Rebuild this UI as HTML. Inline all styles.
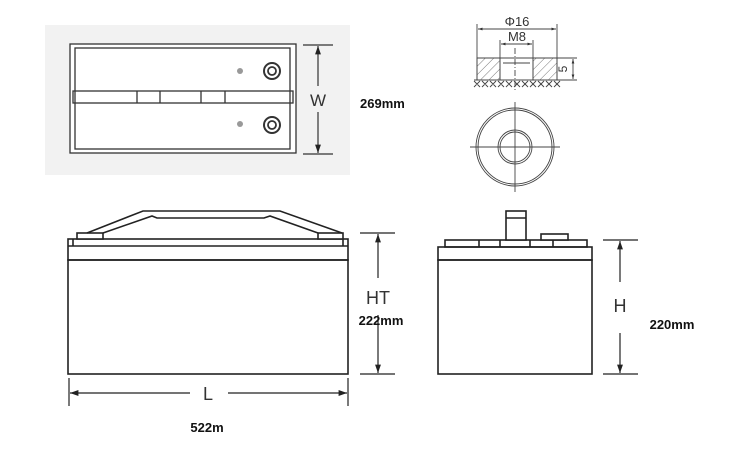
<!DOCTYPE html>
<html><head><meta charset="utf-8"><style>
html,body{margin:0;padding:0;background:#fff;}
svg{display:block;}
text{font-family:"Liberation Sans",sans-serif;}
</style></head><body>
<svg width="745" height="469" viewBox="0 0 745 469" xmlns="http://www.w3.org/2000/svg">
<defs>
<marker id="a" viewBox="0 0 10 10" refX="10" refY="5" markerWidth="7" markerHeight="7" orient="auto-start-reverse"><path d="M0,1.5 L10,5 L0,8.5 z" fill="#222"/></marker>
<marker id="s" viewBox="0 0 10 10" refX="10" refY="5" markerWidth="5" markerHeight="5" orient="auto-start-reverse"><path d="M0,2 L10,5 L0,8 z" fill="#333"/></marker>
<pattern id="h" width="6" height="6" patternUnits="userSpaceOnUse" patternTransform="rotate(45)"><line x1="0" y1="0" x2="0" y2="6" stroke="#555" stroke-width="0.8"/></pattern>
</defs>

<!-- top view panel -->
<rect x="45" y="25" width="305" height="150" fill="#f2f2f2"/>
<g fill="none" stroke="#333" stroke-width="1.3">
<rect x="70" y="44" width="226" height="109" fill="#fff"/>
<rect x="75" y="48" width="215" height="101"/>
<rect x="73" y="91" width="220" height="12"/>
<line x1="137" y1="91" x2="137" y2="103"/><line x1="160" y1="91" x2="160" y2="103"/>
<line x1="201" y1="91" x2="201" y2="103"/><line x1="225" y1="91" x2="225" y2="103"/>
<circle cx="272" cy="71" r="8" stroke-width="2"/><circle cx="272" cy="71" r="4" stroke-width="1.8"/>
<circle cx="272" cy="125" r="8" stroke-width="2"/><circle cx="272" cy="125" r="4" stroke-width="1.8"/>
</g>
<circle cx="240" cy="71" r="3" fill="#999"/><circle cx="240" cy="124" r="3" fill="#999"/>
<g stroke="#333" stroke-width="1.2">
<line x1="303" y1="45" x2="333" y2="45"/><line x1="303" y1="154" x2="333" y2="154"/>
<line x1="318" y1="86" x2="318" y2="46" marker-end="url(#a)"/>
<line x1="318" y1="112" x2="318" y2="153" marker-end="url(#a)"/>
</g>
<text x="318" y="106" font-size="17" text-anchor="middle" fill="#333">W</text>
<text x="360" y="108" font-size="13" font-weight="bold" fill="#111">269mm</text>

<!-- nut detail -->
<g stroke="#444" stroke-width="0.9" fill="none">
<line x1="477" y1="24" x2="477" y2="80"/><line x1="557" y1="24" x2="557" y2="80"/>
<line x1="478" y1="29" x2="556" y2="29" marker-start="url(#s)" marker-end="url(#s)"/>
<line x1="500" y1="40" x2="500" y2="80"/><line x1="533" y1="40" x2="533" y2="80"/>
<line x1="501" y1="44" x2="532" y2="44" marker-start="url(#s)" marker-end="url(#s)"/>
<rect x="477" y="58" width="23" height="22" fill="url(#h)"/>
<rect x="533" y="58" width="24" height="22" fill="url(#h)"/>
<line x1="477" y1="58" x2="557" y2="58"/>
<line x1="503" y1="63" x2="530" y2="63"/>
<line x1="515" y1="48" x2="515" y2="90" stroke-dasharray="6,2,1,2"/>
<line x1="557" y1="58" x2="577" y2="58"/><line x1="557" y1="80" x2="577" y2="80"/>
<line x1="573" y1="59" x2="573" y2="79" marker-start="url(#s)" marker-end="url(#s)"/>
<line x1="474" y1="80" x2="560" y2="80"/>
<path d="M474,81 l6,6 m0,-6 l-6,6 M482,81 l6,6 m0,-6 l-6,6 M490,81 l6,6 m0,-6 l-6,6 M498,81 l6,6 m0,-6 l-6,6 M506,81 l6,6 m0,-6 l-6,6 M514,81 l6,6 m0,-6 l-6,6 M522,81 l6,6 m0,-6 l-6,6 M530,81 l6,6 m0,-6 l-6,6 M538,81 l6,6 m0,-6 l-6,6 M546,81 l6,6 m0,-6 l-6,6 M554,81 l6,6 m0,-6 l-6,6"/>
<circle cx="515" cy="147" r="39"/><circle cx="515" cy="147" r="37"/>
<circle cx="515" cy="147" r="17"/><circle cx="515" cy="147" r="15"/>
<line x1="470" y1="147" x2="560" y2="147"/><line x1="515" y1="102" x2="515" y2="192"/>
</g>
<text x="517" y="26" font-size="13" text-anchor="middle" fill="#333">Φ16</text>
<text x="517" y="41" font-size="13" text-anchor="middle" fill="#333">M8</text>
<text x="563" y="69" font-size="12" text-anchor="middle" fill="#333" transform="rotate(-90 563 69) translate(0 4)">5</text>

<!-- front view -->
<g fill="none" stroke="#222" stroke-width="1.6">
<rect x="68" y="260" width="280" height="114"/>
<rect x="68" y="239" width="280" height="21"/>
<line x1="68" y1="246" x2="348" y2="246"/>
<line x1="73" y1="239" x2="73" y2="246"/><line x1="343" y1="239" x2="343" y2="246"/>
<rect x="77" y="233" width="26" height="6" fill="#fff"/>
<rect x="318" y="233" width="25" height="6" fill="#fff"/>
<path d="M87,233 L143,211 L280,211 L342,233"/>
<path d="M103,233 L152,216 L157,218 L264,218 L270,216 L318,233"/>
</g>
<g stroke="#222" stroke-width="1.2">
<line x1="360" y1="233" x2="395" y2="233"/><line x1="360" y1="374" x2="395" y2="374"/>
<line x1="378" y1="278" x2="378" y2="234" marker-end="url(#a)"/>
<line x1="378" y1="315" x2="378" y2="373" marker-end="url(#a)"/>
<line x1="69" y1="378" x2="69" y2="406"/><line x1="348" y1="378" x2="348" y2="406"/>
<line x1="190" y1="393" x2="70" y2="393" marker-end="url(#a)"/>
<line x1="228" y1="393" x2="347" y2="393" marker-end="url(#a)"/>
</g>
<text x="378" y="304" font-size="18" text-anchor="middle" fill="#333">HT</text>
<text x="381" y="325" font-size="13" font-weight="bold" text-anchor="middle" fill="#111">222mm</text>
<text x="208" y="400" font-size="18" text-anchor="middle" fill="#333">L</text>
<text x="207" y="432" font-size="13" font-weight="bold" text-anchor="middle" fill="#111">522m</text>

<!-- side view -->
<g fill="none" stroke="#222" stroke-width="1.6">
<rect x="438" y="260" width="154" height="114"/>
<rect x="438" y="247" width="154" height="13"/>
<rect x="445" y="240" width="142" height="7"/>
<line x1="479" y1="240" x2="479" y2="247"/><line x1="500" y1="240" x2="500" y2="247"/>
<line x1="530" y1="240" x2="530" y2="247"/><line x1="553" y1="240" x2="553" y2="247"/>
<rect x="506" y="211" width="20" height="29" fill="#fff"/>
<line x1="506" y1="218" x2="526" y2="218"/>
<rect x="541" y="234" width="27" height="6" fill="#fff"/>
</g>
<g stroke="#222" stroke-width="1.2">
<line x1="603" y1="240" x2="638" y2="240"/><line x1="603" y1="374" x2="638" y2="374"/>
<line x1="620" y1="282" x2="620" y2="241" marker-end="url(#a)"/>
<line x1="620" y1="333" x2="620" y2="373" marker-end="url(#a)"/>
</g>
<text x="620" y="312" font-size="18" text-anchor="middle" fill="#333">H</text>
<text x="672" y="329" font-size="13" font-weight="bold" text-anchor="middle" fill="#111">220mm</text>
</svg>
</body></html>
